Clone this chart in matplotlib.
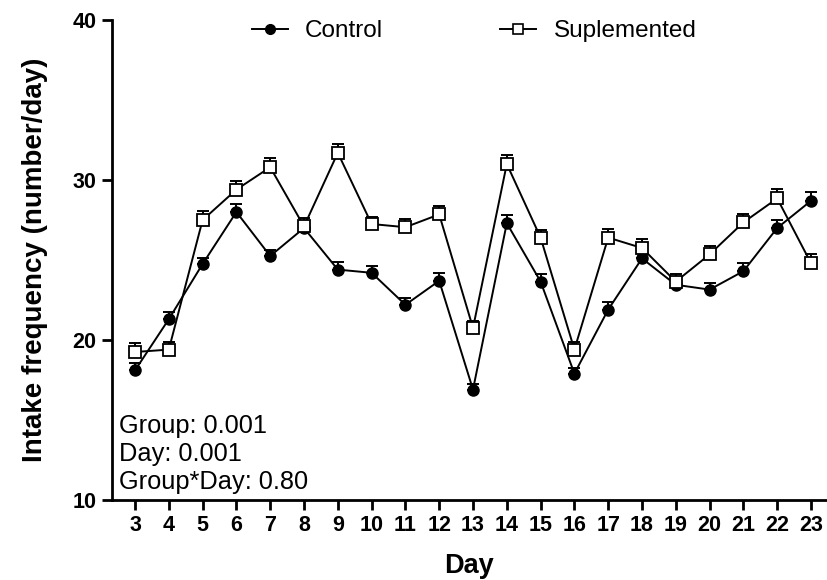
import matplotlib
matplotlib.use("Agg")
import matplotlib.pyplot as plt
from matplotlib.lines import Line2D

plt.rcParams['font.family'] = ['Liberation Sans', 'DejaVu Sans']

days = list(range(3, 24))
control = [18.1, 21.3, 24.75, 28.0, 25.25, 27.0, 24.4, 24.2, 22.2, 23.7, 16.9,
           27.3, 23.65, 17.9, 21.9, 25.1, 23.45, 23.15, 24.3, 27.0, 28.7]
control_sem = [0.45, 0.45, 0.4, 0.5, 0.4, 0.4, 0.45, 0.45, 0.4, 0.5, 0.35,
               0.5, 0.45, 0.35, 0.45, 0.45, 0.4, 0.4, 0.5, 0.5, 0.55]
suplemented = [19.25, 19.4, 27.5, 29.4, 30.8, 27.1, 31.7, 27.25, 27.05, 27.85, 20.75,
               31.0, 26.4, 19.4, 26.4, 25.75, 23.65, 25.35, 27.35, 28.85, 24.8]
suplemented_sem = [0.55, 0.5, 0.55, 0.55, 0.55, 0.5, 0.55, 0.45, 0.5, 0.55, 0.45,
                   0.55, 0.5, 0.45, 0.55, 0.55, 0.5, 0.5, 0.55, 0.6, 0.55]
stats_lines = ["Group: 0.001", "Day: 0.001", "Group*Day: 0.80"]
yticks = [10, 20, 30, 40]

W, H = 827, 580
fig = plt.figure(figsize=(W / 100, H / 100), dpi=100)
ax = fig.add_axes([112 / W, 1 - 500 / H, (W - 112) / W, (500 - 20) / H])

lw = 1.4
ax.errorbar(days, control, yerr=[[0] * len(days), control_sem], fmt='none',
            ecolor='black', elinewidth=lw, capsize=4.5, capthick=lw, zorder=2)
ax.errorbar(days, suplemented, yerr=[[0] * len(days), suplemented_sem], fmt='none',
            ecolor='black', elinewidth=lw, capsize=4.5, capthick=lw, zorder=2)
ax.plot(days, control, color='black', lw=lw, marker='o', ms=8,
        mfc='black', mec='black', zorder=3)
ax.plot(days, suplemented, color='black', lw=lw, marker='s', ms=8,
        mfc='white', mec='black', mew=1.3, zorder=4)

ax.set_xlim(3 - 23 / 33.8, 23 + 16 / 33.8)
ax.set_ylim(10, 40)
ax.set_xticks(days)
ax.set_yticks(yticks)
for s in ['top', 'right']:
    ax.spines[s].set_visible(False)
for s in ['left', 'bottom']:
    ax.spines[s].set_linewidth(2.0)
ax.tick_params(axis='both', width=2.0, length=7, labelsize=15.5, pad=4)
for lab in ax.get_xticklabels() + ax.get_yticklabels():
    lab.set_fontweight('bold')

ax.set_xlabel('Day', fontsize=19.5, fontweight='bold', labelpad=12)
ax.set_ylabel('Intake frequency (number/day)', fontsize=20, fontweight='bold', labelpad=18)

ypix = [426, 454, 482]
for txt, yp in zip(stats_lines, ypix):
    fig.text(119 / W, 1 - yp / H, txt, fontsize=18.3, ha='left', va='center')

handles = [Line2D([], [], color='black', lw=lw, marker='o', ms=7, mfc='black'),
           Line2D([], [], color='black', lw=lw, marker='s', ms=7, mfc='white', mew=1.2)]
fig.legend(handles, ['Control', 'Suplemented'], loc='center',
           bbox_to_anchor=(474 / W, 1 - 31 / H), ncol=2, frameon=False,
           fontsize=17.5, handlelength=1.5, handletextpad=0.7, columnspacing=4.8)

fig.savefig('out.png', dpi=100)
